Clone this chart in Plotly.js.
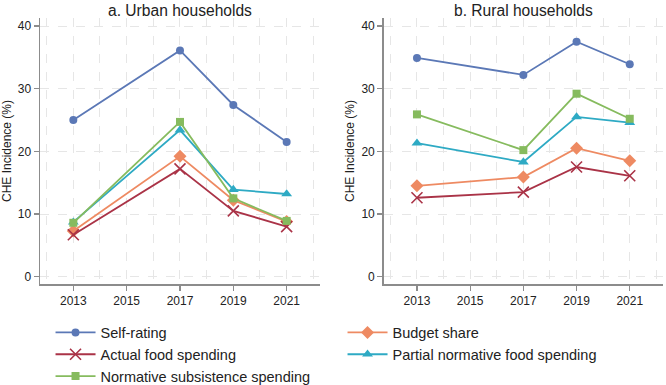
<!DOCTYPE html>
<html>
<head>
<meta charset="utf-8">
<script src="https://cdn.plot.ly/plotly-3.0.1.min.js"></script>
<style>html,body{margin:0;padding:0;background:#fff;}#chart{width:666px;height:385px;}</style>
</head>
<body>
<div id="chart"></div>
<script>
var years = [2013, 2017, 2019, 2021];
var seriesNames = ["Self-rating", "Budget share", "Actual food spending", "Partial normative food spending", "Normative subsistence spending"];

var urbanSelfRating = [25.0, 36.1, 27.4, 21.5];
var urbanBudgetShare = [7.3, 19.2, 12.2, 8.8];
var urbanActualFood = [6.7, 17.2, 10.5, 8.0];
var urbanPartialNormative = [8.7, 23.4, 13.9, 13.2];
var urbanNormativeSubsistence = [8.6, 24.7, 12.5, 8.9];

var ruralSelfRating = [34.9, 32.2, 37.5, 33.9];
var ruralBudgetShare = [14.5, 15.9, 20.5, 18.5];
var ruralActualFood = [12.6, 13.5, 17.5, 16.1];
var ruralPartialNormative = [21.3, 18.3, 25.5, 24.6];
var ruralNormativeSubsistence = [25.9, 20.2, 29.2, 25.2];

var panelTitles = ["a. Urban households", "b. Rural households"];
var yAxisTitle = "CHE Incidence (%)";

var colors = ["#5b78b6", "#ee8a62", "#aa3347", "#2eaac4", "#86bb5e"];
var symbols = ["circle", "diamond", "x-thin-open", "triangle-up", "square"];
var sizes = [8, 10, 11, 9.5, 8];

var urban = [urbanSelfRating, urbanBudgetShare, urbanActualFood, urbanPartialNormative, urbanNormativeSubsistence];
var rural = [ruralSelfRating, ruralBudgetShare, ruralActualFood, ruralPartialNormative, ruralNormativeSubsistence];

var traces = [];
function addPanel(data, xa, ya, showLeg) {
  for (var i = 0; i < data.length; i++) {
    var isX = symbols[i] === "x-thin-open";
    traces.push({
      type: "scatter", mode: "lines+markers",
      x: years, y: data[i], xaxis: xa, yaxis: ya,
      name: seriesNames[i], legendgroup: seriesNames[i], showlegend: showLeg,
      line: {color: colors[i], width: 1.8},
      marker: {symbol: symbols[i], size: sizes[i], color: colors[i],
               line: {color: colors[i], width: isX ? 1.6 : 0}},
      cliponaxis: false
    });
  }
}
addPanel(urban, "x", "y", true);
addPanel(rural, "x2", "y2", false);

var fontFam = "Liberation Sans, Arial, Helvetica, sans-serif";
function xax(domain, anchor) {
  return {
    domain: domain, anchor: anchor, range: [2011.75, 2022.25],
    tickmode: "linear", tick0: 2013, dtick: 2,
    showgrid: true, gridcolor: "#e6e6e6", griddash: "dash", gridwidth: 1,
    minor: {dtick: 1, tick0: 2013, showgrid: true, gridcolor: "#e6e6e6", griddash: "dash", ticklen: 0},
    showline: true, linecolor: "#8c8c8c", linewidth: 1.5,
    ticks: "outside", ticklen: 5, tickcolor: "#8c8c8c", tickwidth: 1.2,
    tickfont: {size: 12, color: "#222", family: fontFam},
    zeroline: false, fixedrange: true
  };
}
function yax(anchor) {
  return {
    anchor: anchor, domain: [0, 1], range: [-1.165, 41.28],
    tickmode: "array", tickvals: [0, 10, 20, 30, 40],
    showgrid: true, gridcolor: "#e6e6e6", griddash: "dash", gridwidth: 1,
    showline: true, linecolor: "#8c8c8c", linewidth: 1.5,
    ticks: "outside", ticklen: 5, tickcolor: "#8c8c8c", tickwidth: 1.2,
    tickfont: {size: 12, color: "#222", family: fontFam},
    title: {text: yAxisTitle, font: {size: 12, color: "#222", family: fontFam}, standoff: 4},
    zeroline: false, fixedrange: true
  };
}

var layout = {
  width: 666, height: 385,
  margin: {l: 40, r: 3, t: 18, b: 101, autoexpand: false},
  paper_bgcolor: "#fff", plot_bgcolor: "#fff",
  font: {family: fontFam, color: "#222"},
  xaxis: xax([0, 0.4494], "y"),
  yaxis: yax("x"),
  xaxis2: xax([0.5517, 1], "y2"),
  yaxis2: yax("x2"),
  showlegend: true,
  legend: {
    orientation: "h", x: 0.0169, xanchor: "left", y: -0.122, yanchor: "top",
    font: {size: 14.5, color: "#222", family: fontFam},
    entrywidth: 237, entrywidthmode: "pixels",
    itemwidth: 40, tracegroupgap: 0, bgcolor: "rgba(0,0,0,0)"
  },
  annotations: [
    {text: panelTitles[0], xref: "paper", yref: "paper", x: 0.4494 / 2, y: 1, xanchor: "center", yanchor: "middle", yshift: 8, showarrow: false, font: {size: 15.6, color: "#222", family: fontFam}},
    {text: panelTitles[1], xref: "paper", yref: "paper", x: (0.5517 + 1) / 2, y: 1, xanchor: "center", yanchor: "middle", yshift: 8, showarrow: false, font: {size: 15.6, color: "#222", family: fontFam}}
  ]
};

Plotly.newPlot("chart", traces, layout, {displayModeBar: false, staticPlot: true});
</script>
</body>
</html>
